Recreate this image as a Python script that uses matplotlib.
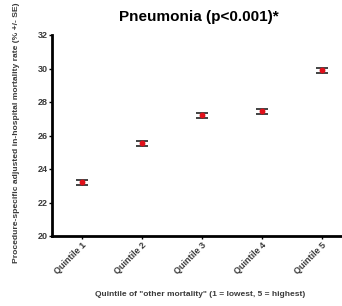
import matplotlib
matplotlib.use("Agg")
import matplotlib.pyplot as plt

categories = ["Quintile 1", "Quintile 2", "Quintile 3", "Quintile 4", "Quintile 5"]
values = [23.2, 25.55, 27.2, 27.45, 29.9]
errors = [0.15, 0.15, 0.15, 0.15, 0.15]
yticks = [20, 22, 24, 26, 28, 30, 32]

plt.rcParams['font.family'] = ['Liberation Sans', 'DejaVu Sans']
fig = plt.figure(figsize=(3.42, 3.06), dpi=100)
ax = fig.add_axes([52/342, 70/306, 300/342, 201/306])
x = list(range(len(categories)))
ax.errorbar(x, values, yerr=errors, fmt='o', color='#e0101a', markersize=3.2,
            ecolor='#222222', elinewidth=1.0, capsize=4.5, capthick=1.2, zorder=3)
ax.set_xlim(-0.5, 4.5)
ax.set_ylim(20, 32)
ax.set_yticks(yticks)
ax.set_yticklabels([str(t) for t in yticks], fontsize=6.5, fontweight='bold', color='#3a3a3a')
ax.set_xticks(x)
ax.set_xticklabels(categories, rotation=45, ha='right', rotation_mode='anchor',
                   fontsize=6.5, fontweight='bold', color='#3a3a3a')
for s in ['top', 'right']:
    ax.spines[s].set_visible(False)
for s in ['left', 'bottom']:
    ax.spines[s].set_linewidth(2)
ax.tick_params(axis='both', length=2, width=1, pad=1)
ax.set_ylabel("Procedure-specific adjusted in-hospital mortality rate (% +/- SE)",
              fontsize=6.1, fontweight='bold', color='#3a3a3a')
ax.yaxis.set_label_coords(-0.105, 0.515)
fig.text(200/342, 1 - 294/306, 'Quintile of "other mortality" (1 = lowest, 5 = highest)',
         ha='center', va='center', fontsize=6, fontweight='bold', color='#3a3a3a')
fig.text(199/342, 1 - 17/306, "Pneumonia (p<0.001)*", ha='center', va='center',
         fontsize=11, fontweight='bold')
fig.savefig("out.png", dpi=100)
